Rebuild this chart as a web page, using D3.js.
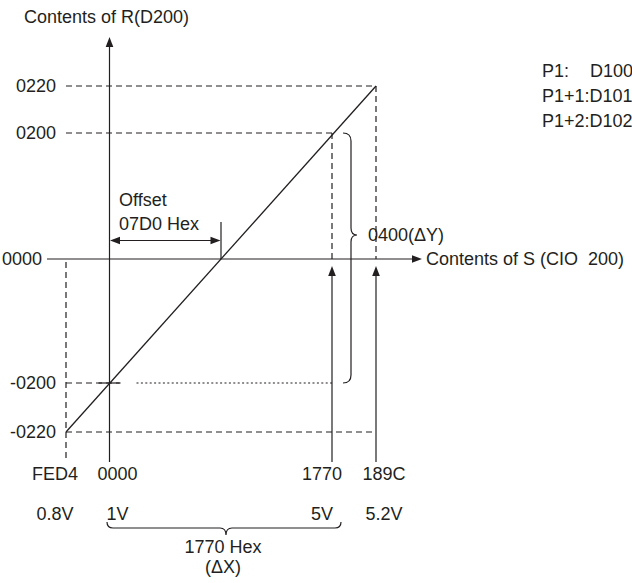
<!DOCTYPE html>
<html>
<head>
<meta charset="utf-8">
<script src="https://cdn.jsdelivr.net/npm/d3@7"></script>
<style>
  html, body { margin: 0; padding: 0; background: #fff; }
  svg text { font-family: "Liberation Sans", Arial, Helvetica, sans-serif; font-size: 18px; fill: #231f20; white-space: pre; }
</style>
</head>
<body>
<svg id="chart" width="632" height="583"></svg>
<script>
// ---- data ----
const xTickLabels = ["FED4", "0000", "1770", "189C"];
const xTickValues = [-300, 0, 6000, 6300];          // hex FED4, 0000, 1770, 189C
const voltLabels  = ["0.8V", "1V", "5V", "5.2V"];
const yTickLabels = ["0220", "0200", "0000", "-0200", "-0220"];
const yTickValues = [544, 512, 0, -512, -544];       // hex 0220, 0200, 0000, -0200, -0220
const linePoints  = [[-300, -544], [6300, 544]];     // conversion line
const yAxisTitle  = "Contents of R(D200)";
const xAxisTitle  = "Contents of S (CIO  200)";
const offsetText  = ["Offset", "07D0 Hex"];
const deltaYText  = "0400(\u0394Y)";
const deltaXText  = ["1770 Hex", "(\u0394X)"];
const paramLines  = [["P1:", "D100"], ["P1+1:D101"], ["P1+2:D102"]];

// ---- scales (diagram is not to scale: piecewise linear) ----
const x = d3.scaleLinear().domain([-300, 0, 6000, 6300]).range([66, 109.5, 332, 376]);
const y = d3.scaleLinear().domain([-544, -512, 0, 512, 544]).range([432, 383, 259, 133, 86]);

const ink = "#231f20";
const svg = d3.select("#chart");
const g = svg.append("g");

function seg(x1, y1, x2, y2, dash, w) {
  g.append("line").attr("x1", x1).attr("y1", y1).attr("x2", x2).attr("y2", y2)
    .attr("stroke", ink).attr("stroke-width", w || 1.2)
    .attr("stroke-dasharray", dash || null);
}
function arrowHead(tx, ty, dir) { // dir: 'up','right','left'
  const L = 10, W = 3.8;
  let p;
  if (dir === "up") p = [[tx, ty], [tx - W, ty + L], [tx + W, ty + L]];
  else if (dir === "right") p = [[tx, ty], [tx - L, ty - W], [tx - L, ty + W]];
  else p = [[tx, ty], [tx + L, ty - W], [tx + L, ty + W]];
  g.append("path").attr("d", d3.line()(p) + "Z").attr("fill", ink);
}

const x0 = x(0), y0 = y(0);
const xMin = x(xTickValues[0]), xMax = x(xTickValues[3]);
const DASH = "6,4";

// dashed reference lines
seg(xMin, y(544), xMax, y(544), DASH);
seg(xMin, y(512), x(6000), y(512), DASH);
seg(xMin, y(-544), xMax, y(-544), DASH);
seg(xMin, y(-512), x0 + 10, y(-512), DASH);
seg(x0 - 11, y(-512), x0 + 11, y(-512), null);          // short solid tick
seg(x0 + 27, y(-512), x(6000), y(-512), "2,2.4");        // dotted
seg(x(6000), y(512), x(6000), y0, DASH);
seg(xMax, y(544), xMax, y0, DASH);
seg(xMin, y0 + 3, xMin, 461, DASH);

// axes
seg(x0, 462, x0, 46);
arrowHead(x0, 37, "up");
seg(47, y0, 412, y0);
arrowHead(422, y0, "right");

// upward arrows at 1770 and 189C
[x(6000), xMax].forEach(px => {
  seg(px, 462, px, 276);
  arrowHead(px, 266, "up");
});

// conversion line
g.append("path")
  .attr("d", d3.line().x(d => x(d[0])).y(d => y(d[1]))(linePoints))
  .attr("fill", "none").attr("stroke", ink).attr("stroke-width", 1.3);

// offset marker: where line crosses 0
const p0 = linePoints[0], p1 = linePoints[1];
const px0 = x(p0[0]), py0 = y(p0[1]), px1 = x(p1[0]), py1 = y(p1[1]);
const crossX = px0 + (y0 - py0) * (px1 - px0) / (py1 - py0);
seg(crossX, y0 - 37, crossX, y0);
seg(x0 + 9, y0 - 18.5, crossX - 9, y0 - 18.5);
arrowHead(x0 + 0.5, y0 - 18.5, "left");
arrowHead(crossX - 0.5, y0 - 18.5, "right");

// vertical brace (0400 ΔY)
const bt = y(512), bb = y(-512), bx = 351, tipY = 235;
g.append("path")
  .attr("d", `M${bx-8},${bt} Q${bx},${bt} ${bx},${bt+8} L${bx},${tipY-7} Q${bx},${tipY} ${bx+6},${tipY} Q${bx},${tipY} ${bx},${tipY+7} L${bx},${bb-8} Q${bx},${bb} ${bx-8},${bb}`)
  .attr("fill", "none").attr("stroke", ink).attr("stroke-width", 1.2);

// horizontal brace (1770 Hex ΔX)
const hl = x0 - 2.5, hr = x(6000) + 9, hy = 528, tipX = 226;
g.append("path")
  .attr("d", `M${hl},${hy-6} Q${hl},${hy} ${hl+6},${hy} L${tipX-6},${hy} Q${tipX},${hy} ${tipX},${hy+7} Q${tipX},${hy} ${tipX+6},${hy} L${hr-6},${hy} Q${hr},${hy} ${hr},${hy-6}`)
  .attr("fill", "none").attr("stroke", ink).attr("stroke-width", 1.2);

// ---- texts ----
function txt(s, tx, ty, anchor, dy) {
  return g.append("text").attr("x", tx).attr("y", ty)
    .attr("text-anchor", anchor || "start").attr("dy", dy || null).text(s);
}
txt(yAxisTitle, 24, 23);
txt(xAxisTitle, 426, y0, "start", "0.35em");

// y tick labels
yTickLabels.forEach((s, i) => {
  const v = yTickValues[i];
  txt(s, v === 0 ? 2 : 56, y(v), v === 0 ? "start" : "end", "0.35em");
});

// x tick labels + volts
const off = [-11, 8, -10, 8];
xTickLabels.forEach((s, i) => txt(s, x(xTickValues[i]) + off[i], 480, "middle"));
voltLabels.forEach((s, i) => txt(s, x(xTickValues[i]) + off[i], 520, "middle"));

txt(offsetText[0], 119, 206);
txt(offsetText[1], 119, 230);
txt(deltaYText, 368, tipY, "start", "0.35em");
txt(deltaXText[0], 223, 553, "middle");
txt(deltaXText[1], 223, 573, "middle");

// parameter block
const pb = [77, 102, 127];
paramLines.forEach((ln, i) => {
  txt(ln[0], 542, pb[i]);
  if (ln[1]) txt(ln[1], 590, pb[i]);
});
</script>
</body>
</html>
